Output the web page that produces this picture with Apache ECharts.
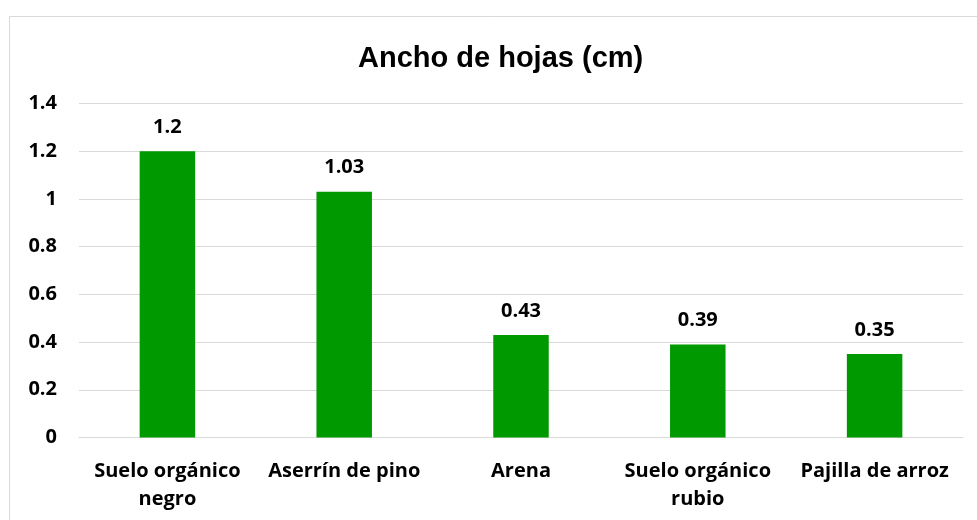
<!DOCTYPE html>
<html>
<head>
<meta charset="utf-8">
<script src="https://cdn.jsdelivr.net/npm/echarts@6/dist/echarts.min.js"></script>
<style>
html,body{margin:0;padding:0;background:#fff;}
#chart{width:977px;height:520px;}
</style>
</head>
<body>
<div id="chart"></div>
<script>
const title = "Ancho de hojas (cm)";
const categories = ["Suelo orgánico\nnegro", "Aserrín de pino", "Arena", "Suelo orgánico\nrubio", "Pajilla de arroz"];
const values = [1.2, 1.03, 0.43, 0.39, 0.35];
const yMin = 0, yMax = 1.4, yStep = 0.2;

const chart = echarts.init(document.getElementById('chart'));
const labelFont = '"Open Sans", Lato, sans-serif';
chart.setOption({
  animation: false,
  backgroundColor: '#ffffff',
  graphic: [{
    type: 'rect', silent: true, z: -1,
    shape: {x: 9.5, y: 16.5, width: 1000, height: 600},
    style: {fill: 'none', stroke: '#d9d9d9', lineWidth: 1}
  }],
  title: {
    text: title, left: 353, top: 39,
    textStyle: {fontFamily: '"Liberation Sans", Arial, sans-serif', fontWeight: 'bold', fontSize: 29, color: '#000'}
  },
  grid: {left: 79, right: 14, top: 103.5, bottom: 82.5},
  xAxis: {
    type: 'category', data: categories,
    axisLine: {lineStyle: {color: '#d9d9d9', width: 1}},
    axisTick: {show: false},
    axisLabel: {color: '#000', fontFamily: labelFont, fontWeight: 'bold', fontSize: 20, margin: 20, lineHeight: 28, interval: 0}
  },
  yAxis: {
    type: 'value', min: yMin, max: yMax, interval: yStep,
    axisLine: {show: false}, axisTick: {show: false},
    splitLine: {lineStyle: {color: '#d9d9d9', width: 1}},
    axisLabel: {color: '#000', fontFamily: labelFont, fontWeight: 'bold', fontSize: 20, margin: 22,
      formatter: v => String(parseFloat(v.toFixed(1)))}
  },
  series: [{
    type: 'bar', data: values, barWidth: 55.5,
    itemStyle: {color: '#009900'},
    label: {show: true, position: 'top', distance: 14, color: '#000', fontFamily: labelFont, fontWeight: 'bold', fontSize: 20}
  }]
});
</script>
</body>
</html>
